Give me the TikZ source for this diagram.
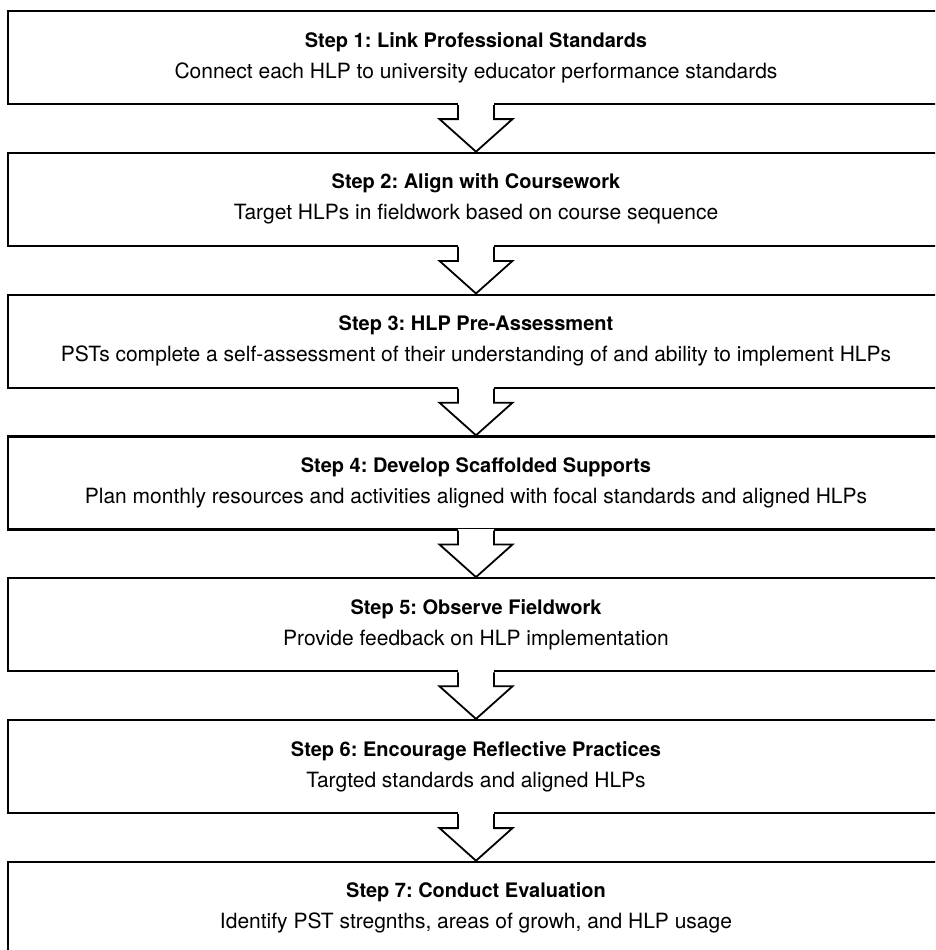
\documentclass[tikz,border=0pt]{standalone}
\usepackage{fontspec}
\setmainfont{TeX Gyre Heros}
\frenchspacing
\usetikzlibrary{calc}
\tikzset{%
  stepbox/.style={draw, rectangle, line width=2.2pt, minimum width=936pt,
    minimum height=93pt, inner sep=0pt, align=center,
    font=\fontsize{21}{31}\selectfont},% one step of the plan
  hollow/.style={line width=1.8pt, line join=miter}% outline of the down arrows
}
\newcommand*{\steptitle}[1]{{\fontsize{20}{24}\selectfont\bfseries #1}}
\newcommand*{\shaft}{18pt}
\newcommand*{\head}{36.5pt}
\newcommand*{\stepconnect}[2]{
  \fill[white] ([xshift=-\shaft, yshift=2pt]#1.south) rectangle ([xshift=\shaft, yshift=-2pt]#1.south);
  \draw[hollow] ([xshift=-\shaft]#1.south) -- ([xshift=-\shaft, yshift=-14pt]#1.south)
    -- ([xshift=-\head, yshift=-14pt]#1.south) -- (#2.north)
    -- ([xshift=\head, yshift=-14pt]#1.south) -- ([xshift=\shaft, yshift=-14pt]#1.south)
    -- ([xshift=\shaft]#1.south);
}
\begin{document}
\begin{tikzpicture}[x=1pt, y=-1pt]
\clip (0,0) rectangle (935,950);
\def\x{476}
\node[stepbox] (s1) at (\x, 57.5) {\steptitle{Step 1: Link Professional Standards}\\
  Connect each HLP to university educator performance standards};
\node[stepbox] (s2) at (\x, 199.3) {\steptitle{Step 2: Align with Coursework}\\
  Target HLPs in fieldwork based on course sequence};
\node[stepbox] (s3) at (\x, 341.1) {\steptitle{Step 3: HLP Pre-Assessment}\\
  PSTs complete a self-assessment of their understanding of and ability to implement HLPs};
\node[stepbox] (s4) at (\x, 482.9) {\steptitle{Step 4: Develop Scaffolded Supports}\\
  Plan monthly resources and activities aligned with focal standards and aligned HLPs};
\node[stepbox] (s5) at (\x, 624.7) {\steptitle{Step 5: Observe Fieldwork}\\
  Provide feedback on HLP implementation};
\node[stepbox] (s6) at (\x, 766.5) {\steptitle{Step 6: Encourage Reflective Practices}\\
  Targted standards and aligned HLPs};
\node[stepbox] (s7) at (\x, 908.3) {\steptitle{Step 7: Conduct Evaluation}\\
  Identify PST stregnths, areas of growh, and HLP usage};

% hollow arrows between the steps
\stepconnect{s1}{s2}
\stepconnect{s2}{s3}
\stepconnect{s3}{s4}
\stepconnect{s4}{s5}
\stepconnect{s5}{s6}
\stepconnect{s6}{s7}
\end{tikzpicture}
\end{document}
